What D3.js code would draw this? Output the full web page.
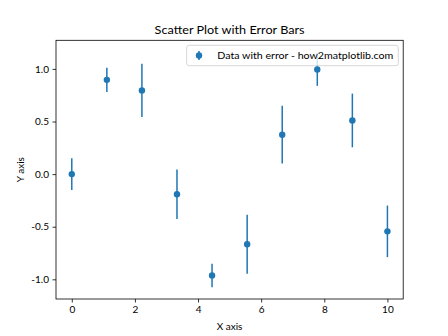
<!DOCTYPE html>
<html><head><meta charset="utf-8">
<script src="https://cdn.jsdelivr.net/npm/d3@7"></script>
<style>body{margin:0;background:#fff}svg{display:block}text{font-family:Lato,"Open Sans",sans-serif}</style>
</head><body>
<script>
const xValues = [0, 1.111, 2.222, 3.333, 4.444, 5.556, 6.667, 7.778, 8.889, 10];
const yValues = [0.0, 0.896, 0.796, -0.191, -0.963, -0.666, 0.375, 0.994, 0.510, -0.544];
const yErrors = [0.15, 0.115, 0.253, 0.235, 0.112, 0.28, 0.274, 0.155, 0.255, 0.245];
const xTicks = [0, 2, 4, 6, 8, 10];
const yTicks = [-1.0, -0.5, 0.0, 0.5, 1.0];
const title = "Scatter Plot with Error Bars";
const xLabel = "X axis", yLabel = "Y axis";
const legendLabel = "Data with error - how2matplotlib.com";

const W = 448, H = 336;
const m = {l: 56, r: 403.2, t: 40.3, b: 299};
const color = "#1f77b4";
const svg = d3.select("body").append("svg").attr("width", W).attr("height", H);

const x = d3.scaleLinear().domain([-0.5, 10.5]).range([m.l, m.r]);
const y = d3.scaleLinear().domain([-1.187, 1.272]).range([m.b, m.t]);

const data = xValues.map((v, i) => ({x: v, y: yValues[i], e: yErrors[i]}));

// error bars
svg.append("g").selectAll("line").data(data).join("line")
  .attr("x1", d => x(d.x)).attr("x2", d => x(d.x))
  .attr("y1", d => y(d.y - d.e)).attr("y2", d => y(d.y + d.e))
  .attr("stroke", color).attr("stroke-width", 1.5);
svg.append("g").selectAll("circle").data(data).join("circle")
  .attr("cx", d => x(d.x)).attr("cy", d => y(d.y)).attr("r", 3.2)
  .attr("fill", color);

// axes
const xAxis = d3.axisBottom(x).tickValues(xTicks).tickFormat(d3.format("d")).tickSize(3.5).tickPadding(3.5);
const yAxis = d3.axisLeft(y).tickValues(yTicks).tickFormat(d => d3.format(".1f")(d).replace("−", "-")).tickSize(3.5).tickPadding(3.5);
const gx = svg.append("g").attr("transform", `translate(0,${m.b})`).call(xAxis);
const gy = svg.append("g").attr("transform", `translate(${m.l},0)`).call(yAxis);
[gx, gy].forEach(g => {
  g.select(".domain").remove();
  g.selectAll(".tick line").attr("stroke", "#000").attr("stroke-width", 0.8);
  g.selectAll(".tick text").attr("fill", "#000").style("font-size", "10px").style("font-family", "Lato, sans-serif");
});

// frame
svg.append("rect").attr("x", m.l).attr("y", m.t).attr("width", m.r - m.l).attr("height", m.b - m.t)
  .attr("fill", "none").attr("stroke", "#000").attr("stroke-width", 0.8);

// title & labels
svg.append("text").attr("x", (m.l + m.r) / 2).attr("y", 34).attr("text-anchor", "middle")
  .attr("textLength", 150).attr("lengthAdjust", "spacingAndGlyphs")
  .style("font-size", "12px").text(title);
svg.append("text").attr("x", (m.l + m.r) / 2).attr("y", 330).attr("text-anchor", "middle")
  .style("font-size", "10px").text(xLabel);
svg.append("text").attr("transform", `translate(24,${(m.t + m.b) / 2}) rotate(-90)`).attr("text-anchor", "middle")
  .style("font-size", "10px").text(yLabel);

// legend
const lg = svg.append("g");
lg.append("rect").attr("x", 186.7).attr("y", 45.3).attr("width", 211.6).attr("height", 20.4).attr("rx", 2.5)
  .attr("fill", "#fff").attr("fill-opacity", 0.8).attr("stroke", "#ccc").attr("stroke-width", 0.8);
lg.append("line").attr("x1", 199).attr("x2", 199).attr("y1", 51).attr("y2", 60)
  .attr("stroke", color).attr("stroke-width", 1.5);
lg.append("circle").attr("cx", 199).attr("cy", 55.5).attr("r", 3.2).attr("fill", color);
lg.append("text").attr("x", 217.3).attr("y", 59.2)
  .attr("textLength", 176).attr("lengthAdjust", "spacingAndGlyphs")
  .style("font-size", "10px").text(legendLabel);
</script>
</body></html>
